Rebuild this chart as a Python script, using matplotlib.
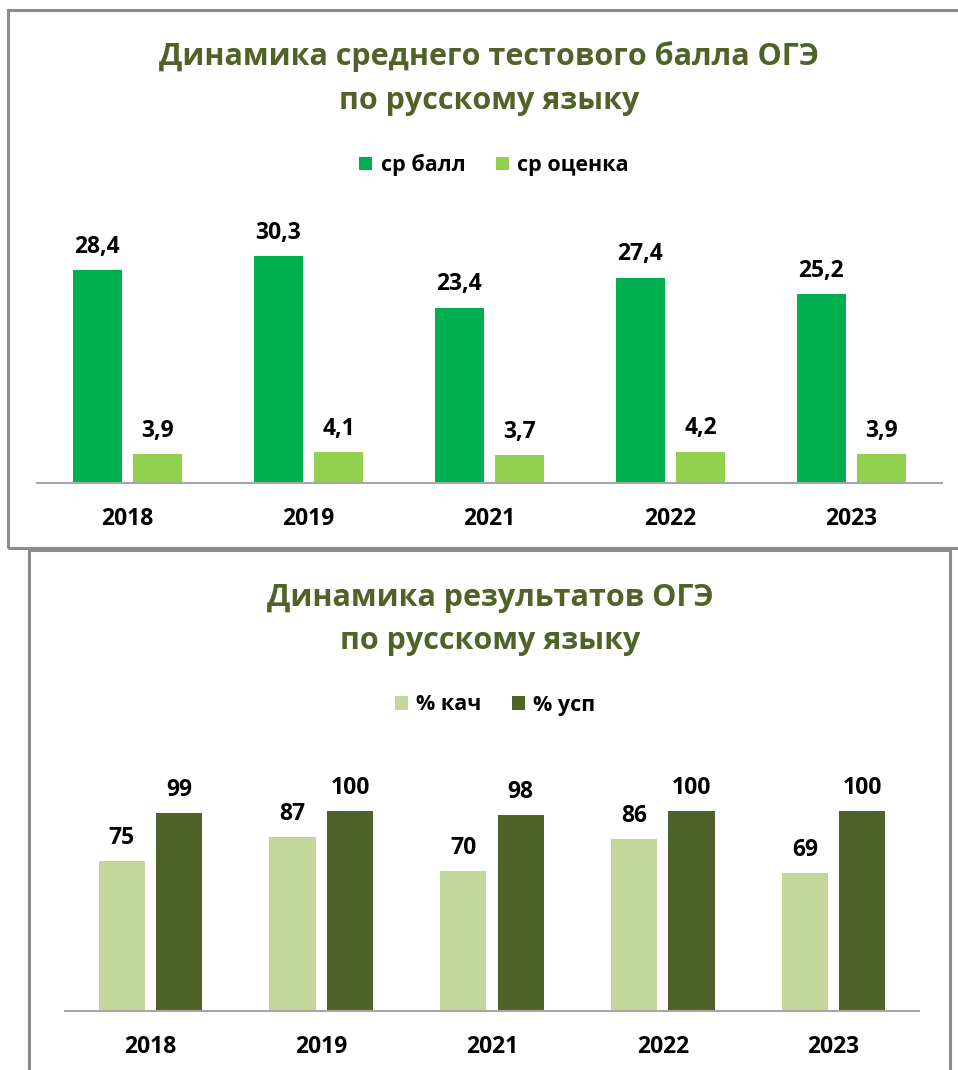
import matplotlib
matplotlib.use("Agg")
import matplotlib.pyplot as plt
from matplotlib.patches import Rectangle
import numpy as np

plt.rcParams['font.family'] = ['Open Sans', 'DejaVu Sans']
plt.rcParams['font.weight'] = 'bold'

# данные
years = ["2018", "2019", "2021", "2022", "2023"]
sr_ball = [28.4, 30.3, 23.4, 27.4, 25.2]
sr_ocenka = [3.9, 4.1, 3.7, 4.2, 3.9]
proc_kach = [75, 87, 70, 86, 69]
proc_usp = [99, 100, 98, 100, 100]

title_color = "#4F6228"
frame_color = "#8C8C8C"
W, H = 958, 1070

fig = plt.figure(figsize=(W / 100, H / 100), dpi=100)

def fx(px):
    return px / W

def fy(py):
    return 1 - py / H

# рамки панелей
fig.patches.append(Rectangle((fx(8), fy(548)), fx(980) - fx(8), fy(10) - fy(548),
                             transform=fig.transFigure, fill=False,
                             edgecolor=frame_color, linewidth=2.2, zorder=0))
fig.patches.append(Rectangle((fx(29), fy(1090)), fx(950) - fx(29), fy(550) - fy(1090),
                             transform=fig.transFigure, fill=False,
                             edgecolor=frame_color, linewidth=2.2, zorder=0))

def draw_chart(rect, v1, v2, c1, c2, n1, n2, ymax, fmt):
    ax = fig.add_axes(rect)
    x = np.arange(len(years))
    w = 0.27
    off = 0.168
    b1 = ax.bar(x - off, v1, w, color=c1, label=n1)
    b2 = ax.bar(x + off, v2, w, color=c2, label=n2)
    ax.bar_label(b1, labels=[fmt(v) for v in v1], padding=8, fontsize=16.5,
                 fontweight='bold', color='black')
    ax.bar_label(b2, labels=[fmt(v) for v in v2], padding=8, fontsize=16.5,
                 fontweight='bold', color='black')
    ax.set_xlim(-0.5, len(years) - 0.5)
    ax.set_ylim(0, ymax)
    ax.set_xticks(x)
    ax.set_xticklabels(years, fontsize=16.5, fontweight='bold')
    ax.tick_params(axis='x', length=0, pad=17)
    ax.set_yticks([])
    for s in ['top', 'left', 'right']:
        ax.spines[s].set_visible(False)
    ax.spines['bottom'].set_color('#A6A6A6')
    ax.spines['bottom'].set_linewidth(1.5)
    ax.patch.set_alpha(0)
    return ax

# верхний график
ax1 = draw_chart([fx(37), fy(483), fx(942) - fx(37), fy(220.5) - fy(483)],
                 sr_ball, sr_ocenka, "#00B050", "#92D050", "ср балл", "ср оценка",
                 35, lambda v: f"{v:.1f}".replace('.', ','))
fig.text(fx(489), fy(57), "Динамика среднего тестового балла ОГЭ", ha='center', va='center',
         fontsize=22, fontweight='bold', color=title_color)
fig.text(fx(489), fy(101), "по русскому языку", ha='center', va='center',
         fontsize=22, fontweight='bold', color=title_color)
h, l = ax1.get_legend_handles_labels()
fig.legend(h, l, loc='center', bbox_to_anchor=(fx(494), fy(165)), ncol=2, frameon=False,
           fontsize=15.5, handlelength=0.6, handleheight=0.6, handletextpad=0.4,
           columnspacing=1.4)

# нижний график
ax2 = draw_chart([fx(65), fy(1011), fx(919) - fx(65), fy(761) - fy(1011)],
                 proc_kach, proc_usp, "#C4D79B", "#4F6228", "% кач", "% усп",
                 125, lambda v: f"{v:d}")
fig.text(fx(490), fy(598), "Динамика результатов ОГЭ", ha='center', va='center',
         fontsize=22, fontweight='bold', color=title_color)
fig.text(fx(490), fy(641), "по русскому языку", ha='center', va='center',
         fontsize=22, fontweight='bold', color=title_color)
h, l = ax2.get_legend_handles_labels()
fig.legend(h, l, loc='center', bbox_to_anchor=(fx(495), fy(705)), ncol=2, frameon=False,
           fontsize=15.5, handlelength=0.6, handleheight=0.6, handletextpad=0.4,
           columnspacing=1.4)

fig.savefig("out.png", dpi=100)
